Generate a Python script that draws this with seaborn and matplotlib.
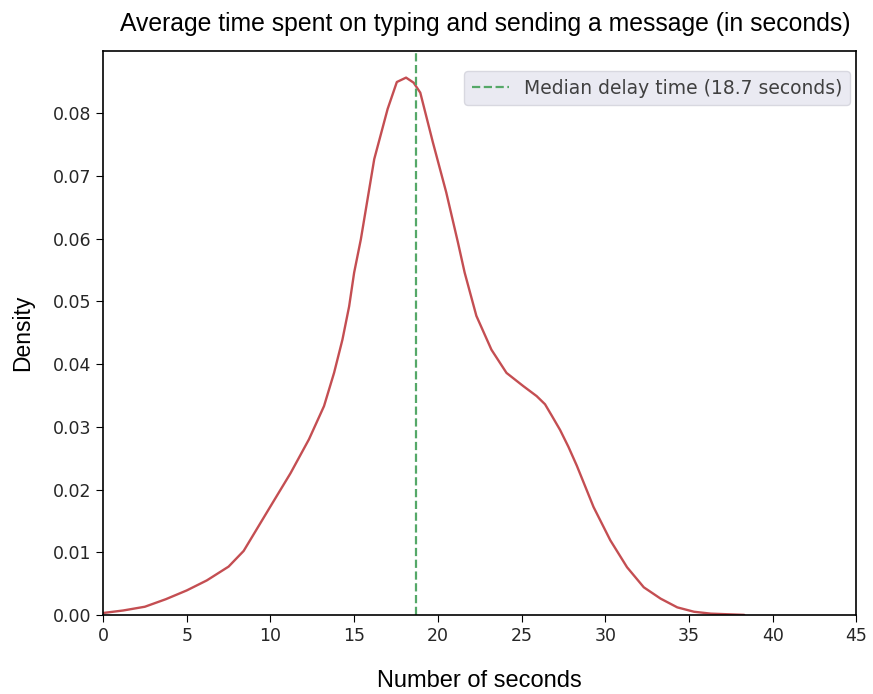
import numpy as np
import pandas as pd
import seaborn as sns
import matplotlib.pyplot as plt

# density curve (seconds -> density)
seconds = [0, 1.2, 2.5, 3.75, 5, 6.2, 7.5, 8.4, 10, 11.2, 12.3, 13.2, 13.8, 14.3,
           14.7, 15.0, 15.4, 16.2, 17.0, 17.55, 18.1, 18.55, 18.95, 19.7, 20.5, 21.2,
           21.6, 22.3, 23.2, 24.1, 25.1, 25.9, 26.4, 26.8, 27.3, 27.8, 28.3, 29.3,
           30.3, 31.3, 32.3, 33.3, 34.3, 35.3, 36.3, 37.3, 38.3]
density = [0.0003, 0.0007, 0.0013, 0.0025, 0.0039, 0.0055, 0.0077, 0.0102, 0.0173,
           0.0226, 0.0280, 0.0333, 0.0386, 0.0439, 0.0492, 0.0546, 0.0599, 0.0727,
           0.0807, 0.0850, 0.0857, 0.0849, 0.0833, 0.0754, 0.0674, 0.0594, 0.0546,
           0.0477, 0.0423, 0.0386, 0.0365, 0.0349, 0.0336, 0.0318, 0.0295, 0.0268,
           0.0238, 0.0172, 0.0119, 0.0076, 0.0044, 0.0026, 0.0012, 0.0005, 0.0002,
           0.0001, 0.0]
median_delay = 18.7

x_ticks = [0, 5, 10, 15, 20, 25, 30, 35, 40, 45]
y_ticks = [0.00, 0.01, 0.02, 0.03, 0.04, 0.05, 0.06, 0.07, 0.08]

df = pd.DataFrame({"seconds": seconds, "density": density})

sns.set_style("ticks")
plt.rcParams["font.family"] = ["DejaVu Sans"]

fig = plt.figure(figsize=(8.73, 6.94), dpi=100)
ax = fig.add_axes([0.118, 0.114, 0.863, 0.813])

sns.lineplot(data=df, x="seconds", y="density", color="#C44E52", linewidth=1.7, ax=ax)
ax.axvline(median_delay, color="#55A868", linestyle="--", linewidth=1.6,
           label=f"Median delay time ({median_delay} seconds)")

ax.set_xlim(0, 45)
ax.set_ylim(0, 0.090)
ax.set_xticks(x_ticks)
ax.set_yticks(y_ticks)
ax.set_yticklabels([f"{v:.2f}" for v in y_ticks])
ax.tick_params(labelsize=12.5, colors="black", labelcolor=".15", length=5)
for s in ax.spines.values():
    s.set_color("black")
    s.set_linewidth(1.2)

ax.set_xlabel("Number of seconds", fontsize=17, family="Liberation Sans",
              color="black", labelpad=18)
ax.set_ylabel("Density", fontsize=16.5, family="Liberation Sans",
              color="black", labelpad=13)
ax.set_title("Average time spent on typing and sending a message (in seconds)",
             fontsize=17.8, family="Liberation Sans", color="black", pad=14, x=0.507)

leg = ax.legend(loc="upper right", fontsize=13.5, facecolor="#EAEAF2",
                edgecolor="#d8d8e0", framealpha=1, labelcolor=".25",
                bbox_to_anchor=(850 / 873, 1 - 71 / 694),
                bbox_transform=fig.transFigure, borderaxespad=0)

fig.savefig("out.png", dpi=100)
